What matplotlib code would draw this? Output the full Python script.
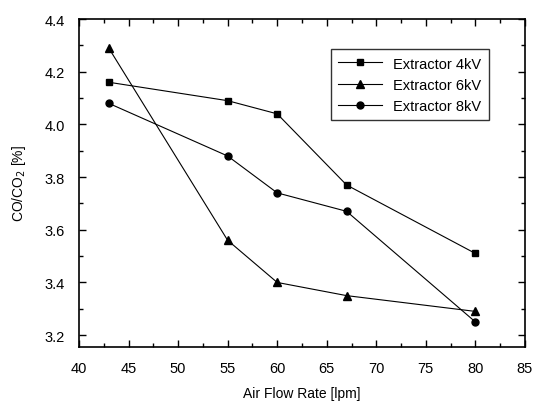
import numpy as np
import matplotlib
matplotlib.use("Agg")
import matplotlib.pyplot as plt
from matplotlib.ticker import MultipleLocator

plt.rcParams['font.family'] = ['Liberation Sans', 'DejaVu Sans']

airFlow = [43, 55, 60, 67, 80]
extractor4kV = [4.16, 4.09, 4.04, 3.77, 3.51]
extractor6kV = [4.29, 3.56, 3.40, 3.35, 3.29]
extractor8kV = [4.08, 3.88, 3.74, 3.67, 3.25]

labels = ['Extractor 4kV', 'Extractor 6kV', 'Extractor 8kV']
markers = ['s', '^', 'o']
markerSizes = [5, 6, 5]


def main():
    fig = plt.figure(figsize=(5.38, 4.06), dpi=100)
    ax = fig.add_axes([0.1468, 0.1429, 0.8290, 0.8078])

    for series, lab, mk, ms in zip([extractor4kV, extractor6kV, extractor8kV], labels, markers, markerSizes):
        ax.plot(airFlow, series, color='black', linewidth=0.8, marker=mk,
                markersize=ms, label=lab)

    ax.set_xlim(40, 85)
    ax.set_ylim(3.155, 4.4)
    ax.xaxis.set_major_locator(MultipleLocator(5))
    ax.xaxis.set_minor_locator(MultipleLocator(2.5))
    ax.yaxis.set_major_locator(MultipleLocator(0.2))
    ax.yaxis.set_minor_locator(MultipleLocator(0.1))
    ax.yaxis.set_major_formatter(matplotlib.ticker.FormatStrFormatter('%.1f'))
    ax.tick_params(which='both', direction='in', top=True, right=True, labelsize=10.5)
    ax.tick_params(axis='y', which='major', pad=10)
    ax.tick_params(axis='x', which='major', pad=10)
    ax.tick_params(which='major', length=5, width=1)
    ax.tick_params(which='minor', length=3, width=1)
    for sp in ax.spines.values():
        sp.set_linewidth(1.2)

    ax.set_xlabel('Air Flow Rate [lpm]', fontsize=10, labelpad=8)
    ax.set_ylabel('CO/CO$_2$ [%]', fontsize=10, labelpad=12)

    leg = ax.legend(loc='upper right', bbox_to_anchor=(0.935, 0.93), fontsize=10.5,
                    frameon=True, fancybox=False, edgecolor='black',
                    handlelength=3, borderpad=0.5, labelspacing=0.5)
    leg.get_frame().set_linewidth(1.0)

    fig.savefig('out.png', dpi=100)


if __name__ == "__main__":
    main()
